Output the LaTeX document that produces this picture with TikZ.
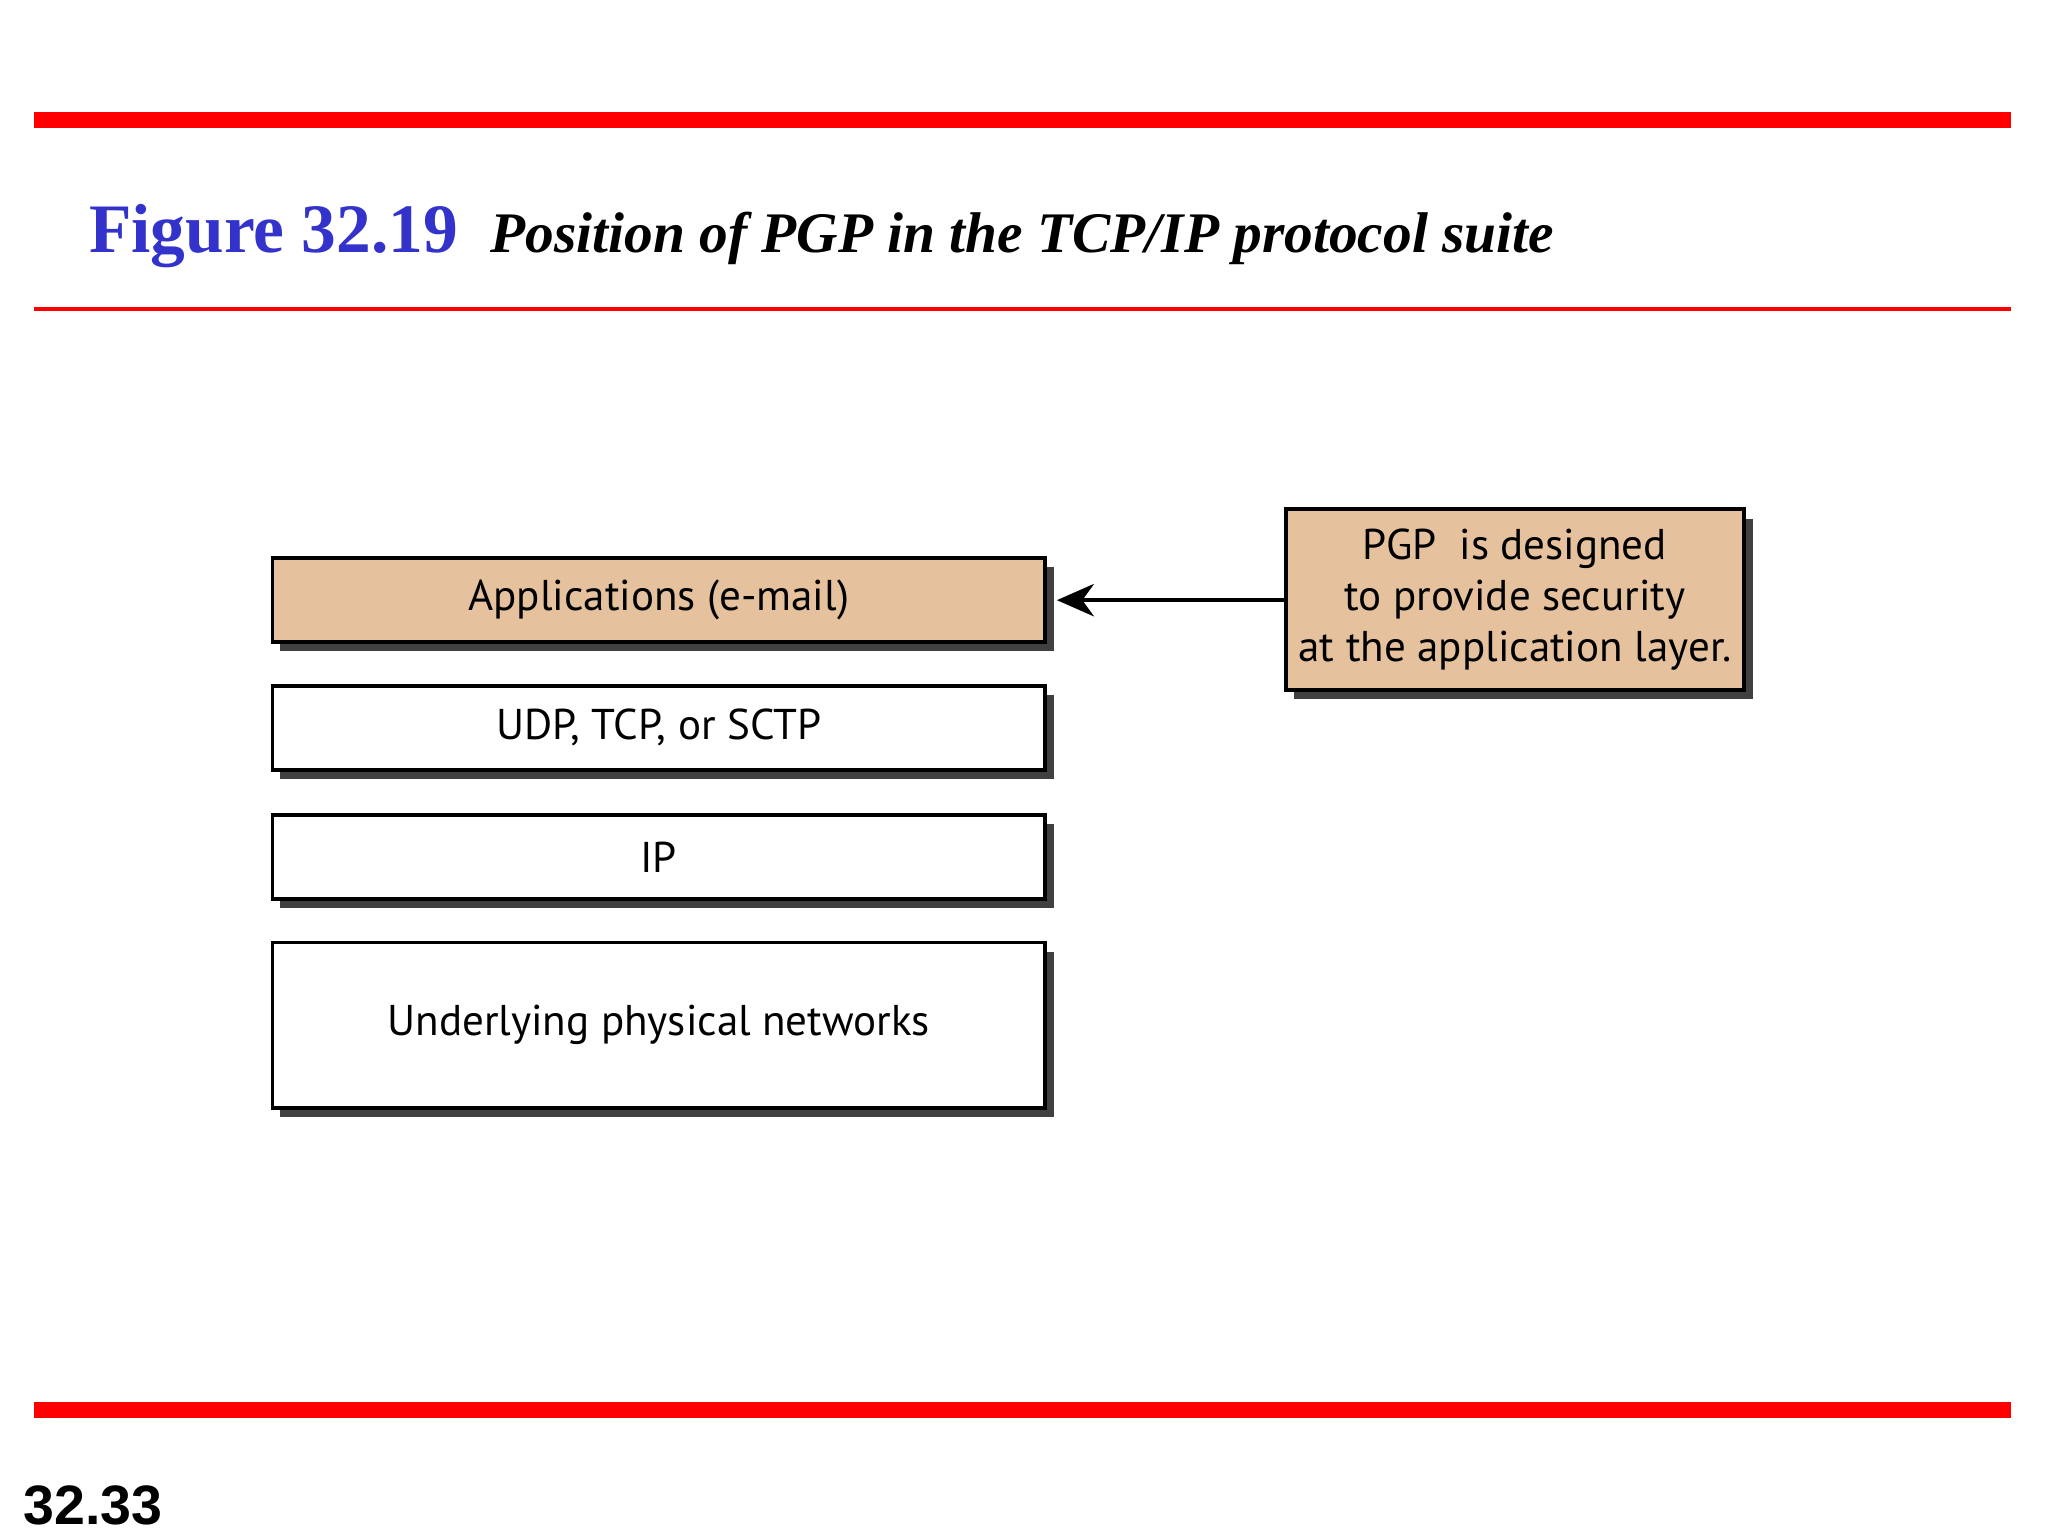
\documentclass[tikz,border=0pt]{standalone}
\usepackage{fontspec}
\setmainfont{Liberation Serif}
\newfontfamily\boxfont{PT Sans}
\newfontfamily\numfont{Liberation Sans}
\usetikzlibrary{arrows.meta}
\definecolor{tan}{HTML}{E5C29D}
\definecolor{figblue}{HTML}{3333CC}
\begin{document}
\begin{tikzpicture}[x=0.01cm,y=-0.01cm]
\useasboundingbox (0,0) rectangle (1556,1168);
\fill[red] (26,85) rectangle (1528,97);
\fill[red] (26,233.5) rectangle (1528,236.5);
\fill[red] (26,1065) rectangle (1528,1077);
\node[anchor=base west,text=figblue,font=\bfseries\fontsize{15}{18}\selectfont,inner sep=0] (fig) at (67,192) {Figure 32.19};
\node[anchor=base west,font=\bfseries\itshape\fontsize{12.4}{15}\selectfont,inner sep=0] (ttl) at (372,192) {Position of PGP in the TCP/IP protocol suite};
\node[anchor=base west,font=\numfont\bfseries\fontsize{12}{14}\selectfont,inner sep=0] (num) at (17,1158) {32.33};
\foreach \a/\b in {424/488,521/585,619/683,716/842}{
  \fill[black!75] (213,\a+7) rectangle (801,\b+7);}
\fill[black!75] (983,394) rectangle (1332,531);
\tikzset{bx/.style={draw=black,line width=0.8pt,font=\boxfont\fontsize{9.3}{11}\selectfont}}
\draw[bx,fill=tan] (207,424) rectangle (794,488) node[midway] (app) {Applications (e-mail)};
\draw[bx,fill=white] (207,521) rectangle (794,585) node[midway] (udp) {UDP, TCP, or SCTP};
\draw[bx,fill=white] (207,619) rectangle (794,683) node[midway] (ip) {IP};
\draw[bx,fill=white] (207,716) rectangle (794,842) node[midway] (phy) {Underlying physical networks};
\draw[bx,fill=tan] (977,387) rectangle (1325,524) node[midway,align=center] (pgp) {PGP\ \ is designed\\to provide security\\at the application layer.};
\coordinate (pw) at (977,456);
\coordinate (ae) at (803,456);
\draw[line width=0.8pt,-{Stealth[length=8pt,width=7pt,inset=2.5pt]}] (pw) -- (ae);
\end{tikzpicture}
\end{document}
